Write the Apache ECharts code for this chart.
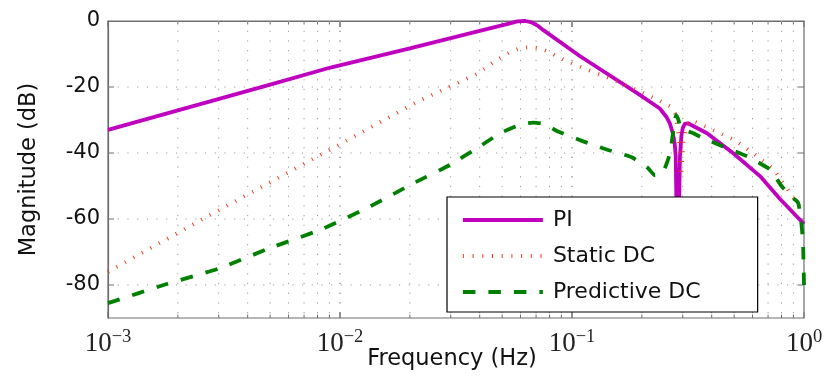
<!DOCTYPE html>
<html>
<head>
<meta charset="utf-8">
<script src="https://cdn.jsdelivr.net/npm/echarts@6/dist/echarts.min.js"></script>
<style>
  html, body { margin: 0; padding: 0; background: #fff; }
  #chart { width: 826px; height: 376px; }
</style>
</head>
<body>
<div id="chart"></div>
<script>
// frequency (Hz) / magnitude (dB)
const piFreq = [0.001, 0.005, 0.0091, 0.02, 0.04, 0.054, 0.058, 0.063, 0.067, 0.071, 0.075, 0.108, 0.196, 0.239, 0.255, 0.264, 0.272, 0.277, 0.28, 0.285, 0.292, 0.296, 0.3, 0.306, 0.316, 0.382, 0.494, 0.646, 0.79, 1.0];
const piMag = [-33, -19.3, -14.1, -8.3, -3.0, -0.7, -0.1, 0, -0.4, -1.4, -2.7, -10.6, -22.4, -26.5, -29, -31, -34, -37, -41, -80, -41, -35, -32.5, -31.2, -31, -34, -40, -47, -54, -61.5];

const staticFreq = [0.001, 0.0025, 0.00933, 0.0215, 0.039, 0.046, 0.054, 0.06, 0.066, 0.072, 0.08, 0.087, 0.1, 0.116, 0.146, 0.196, 0.239, 0.264, 0.278, 0.285, 0.29, 0.296, 0.302, 0.313, 0.33, 0.35, 0.5, 0.63, 0.74, 0.85, 0.93, 1.0];
const staticMag = [-76, -60.4, -38.5, -24.5, -16, -12.4, -9.4, -8.2, -7.9, -8.2, -9.4, -10.9, -12.8, -14.7, -17.4, -21.3, -24.2, -25.8, -28, -32, -37, -47, -37, -31.5, -30, -31, -36, -41, -45, -51, -55, -58];

const predFreq = [0.001, 0.00179, 0.00304, 0.00499, 0.0082, 0.01306, 0.0207, 0.0298, 0.04, 0.049, 0.056, 0.062, 0.068, 0.074, 0.08, 0.086, 0.111, 0.142, 0.181, 0.212, 0.228, 0.24, 0.25, 0.262, 0.27, 0.276, 0.281, 0.286, 0.292, 0.3, 0.333, 0.367, 0.448, 0.568, 0.713, 0.8, 0.87, 0.942, 0.97, 0.99, 1.0];
const predMag = [-85.5, -79.7, -74.9, -68.8, -63.3, -56.7, -49.2, -43.6, -38, -34, -32.2, -31.2, -30.8, -31.1, -32, -33.3, -36.4, -39, -41.3, -44.5, -46.8, -46.5, -45, -41, -36, -31, -28.5, -29.5, -31.5, -32.8, -34, -35.5, -38, -41, -45, -50, -53, -55, -60, -67, -80];

const seriesNames = ["PI", "Static DC", "Predictive DC"];

// grid positions
const gridX = [0.002, 0.003, 0.004, 0.005, 0.006, 0.007, 0.008, 0.009, 0.01,
  0.02, 0.03, 0.04, 0.05, 0.06, 0.07, 0.08, 0.09, 0.1,
  0.2, 0.3, 0.4, 0.5, 0.6, 0.7, 0.8, 0.9];
const decades = [0.001, 0.01, 0.1, 1];
const gridY = [-80, -60, -40, -20];

const pair = (xs, ys) => xs.map((x, i) => [x, ys[i]]);

const sansFont = "DejaVu Sans";
const gridDot = { stroke: "#9a9a9a", lineWidth: 1, lineDash: [1.2, 8.5] };
const frameColor = "#6e6e6e";

const chart = echarts.init(document.getElementById("chart"));

const option = {
  animation: false,
  backgroundColor: "#fff",
  grid: {
    left: 108,
    right: 22,
    top: 21,
    bottom: 58,
    outerBoundsMode: "none",
    show: true,
    borderColor: frameColor,
    borderWidth: 1.2,
  },
  legend: {
    data: seriesNames,
    orient: "vertical",
    left: 447,
    top: 197,
    padding: [12, 57, 9, 14],
    itemWidth: 80,
    itemHeight: 22,
    itemGap: 14,
    backgroundColor: "#fff",
    borderColor: "#000",
    borderWidth: 1.2,
    borderRadius: 0,
    itemStyle: { opacity: 0 },
    lineStyle: { width: 3.8 },
    textStyle: {
      fontFamily: sansFont,
      fontSize: 22,
      color: "#111",
      padding: [0, 0, 0, 5],
    },
  },
  xAxis: {
    type: "log",
    logBase: 10,
    min: 0.001,
    max: 1,
    name: "Frequency (Hz)",
    nameLocation: "middle",
    nameGap: 30,
    nameMoveOverlap: false,
    nameTextStyle: { fontFamily: sansFont, fontSize: 22.5, color: "#111", padding: [0, 8, 0, 0] },
    axisLine: { show: true, lineStyle: { color: frameColor, width: 1.2 } },
    axisTick: { show: false },
    splitLine: { show: false },
    axisLabel: {
      margin: 10,
      formatter: (v) => {
        const e = Math.round(Math.log10(v));
        return "{b|10}{s|" + (e < 0 ? "\u2212" + -e : e) + "}";
      },
      rich: {
        b: { fontFamily: "Liberation Serif", fontSize: 27, color: "#222" },
        s: { fontFamily: "Liberation Serif", fontSize: 18.5, color: "#222", padding: [0, 0, 12, 0] },
      },
    },
  },
  yAxis: {
    type: "value",
    min: -90,
    max: 0,
    interval: 10,
    name: "Magnitude (dB)",
    nameLocation: "middle",
    nameGap: 67,
    nameMoveOverlap: false,
    nameTextStyle: { fontFamily: sansFont, fontSize: 22.5, color: "#111" },
    axisLine: { show: true, lineStyle: { color: frameColor, width: 1.2 } },
    axisTick: { show: false },
    splitLine: { show: false },
    axisLabel: {
      margin: 8,
      fontFamily: sansFont,
      fontSize: 21,
      color: "#111",
      formatter: (v) => (v % 20 === 0 ? String(v) : ""),
    },
  },
  series: [
    {
      // vertical dotted grid + ticks on bottom and top
      type: "custom",
      silent: true,
      z: 1,
      data: gridX.concat(decades).map((x) => [x, -45]),
      renderItem: (params, api) => {
        const x = api.value(0);
        const cs = params.coordSys;
        const px = api.coord([x, -45])[0];
        const major = decades.indexOf(x) >= 0;
        const len = major ? 6 : 3.5;
        const tick = { stroke: frameColor, lineWidth: 1 };
        const children = [
          { type: "line", shape: { x1: px, y1: cs.y + cs.height, x2: px, y2: cs.y + cs.height - len }, style: tick },
          { type: "line", shape: { x1: px, y1: cs.y, x2: px, y2: cs.y + len }, style: tick },
        ];
        if (x > 0.001 && x < 1) {
          children.push({ type: "line", shape: { x1: px, y1: cs.y, x2: px, y2: cs.y + cs.height }, style: gridDot });
        }
        return { type: "group", children: children };
      },
    },
    {
      // horizontal dotted grid + ticks on left and right
      type: "custom",
      silent: true,
      z: 1,
      data: gridY.map((y) => [0.01, y]),
      renderItem: (params, api) => {
        const cs = params.coordSys;
        const py = api.coord([0.01, api.value(1)])[1];
        const tick = { stroke: frameColor, lineWidth: 1 };
        return {
          type: "group",
          children: [
            { type: "line", shape: { x1: cs.x, y1: py, x2: cs.x + cs.width, y2: py }, style: gridDot },
            { type: "line", shape: { x1: cs.x, y1: py, x2: cs.x + 6, y2: py }, style: tick },
            { type: "line", shape: { x1: cs.x + cs.width, y1: py, x2: cs.x + cs.width - 6, y2: py }, style: tick },
          ],
        };
      },
    },
    {
      name: "PI",
      type: "line",
      data: pair(piFreq, piMag),
      symbol: "none",
      color: "#bf00bf",
      lineStyle: { color: "#bf00bf", width: 3.8, join: "round" },
      z: 2,
    },
    {
      name: "Static DC",
      type: "line",
      data: pair(staticFreq, staticMag),
      symbol: "none",
      color: "#f03c1e",
      lineStyle: { color: "#f03c1e", width: 3.8, type: [1, 8.7] },
      z: 2,
    },
    {
      name: "Predictive DC",
      type: "line",
      data: pair(predFreq, predMag),
      symbol: "none",
      smooth: 0.15,
      color: "#008000",
      lineStyle: { color: "#008000", width: 3.8, type: [12.5, 13] },
      z: 2,
    },
  ],
};

chart.setOption(option);
</script>
</body>
</html>
